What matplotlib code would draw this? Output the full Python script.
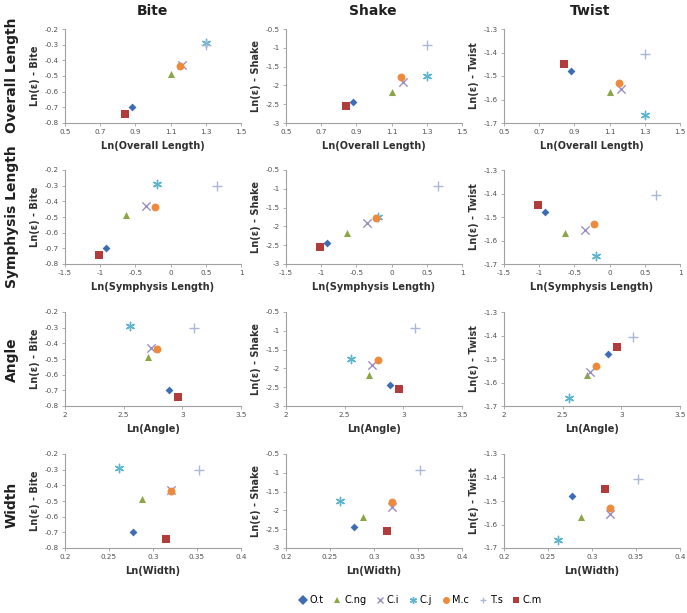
import matplotlib
matplotlib.use("Agg")
import matplotlib.pyplot as plt
from matplotlib.lines import Line2D

species = ["O.t", "C.ng", "C.i", "C.j", "M.c", "T.s", "C.m"]

# y values (Ln(strain))
bite = [-0.70, -0.49, -0.43, -0.29, -0.435, -0.30, -0.745]
shake = [-2.44, -2.17, -1.90, -1.75, -1.78, -0.92, -2.55]
twist = [-1.477, -1.570, -1.555, -1.668, -1.530, -1.405, -1.450]

# x values (Ln(morphology))
overall_length = [0.88, 1.10, 1.165, 1.30, 1.155, 1.30, 0.84]
symphysis_length = [-0.92, -0.63, -0.35, -0.20, -0.22, 0.66, -1.02]
angle = [2.89, 2.71, 2.735, 2.55, 2.78, 3.10, 2.96]
width = [0.277, 0.287, 0.320, 0.261, 0.321, 0.352, 0.315]

col_titles = ["Bite", "Shake", "Twist"]
row_titles = ["Overall Length", "Symphysis Length", "Angle", "Width"]
x_labels = ["Ln(Overall Length)", "Ln(Symphysis Length)", "Ln(Angle)", "Ln(Width)"]
y_labels = ["Ln(\u03b5) - Bite", "Ln(\u03b5) - Shake", "Ln(\u03b5) - Twist"]

x_data = [overall_length, symphysis_length, angle, width]
y_data = [bite, shake, twist]

x_ticks = [
    [0.5, 0.7, 0.9, 1.1, 1.3, 1.5],
    [-1.5, -1, -0.5, 0, 0.5, 1],
    [2, 2.5, 3, 3.5],
    [0.2, 0.25, 0.3, 0.35, 0.4],
]
x_ticklabels = [
    ["0.5", "0.7", "0.9", "1.1", "1.3", "1.5"],
    ["-1.5", "-1", "-0.5", "0", "0.5", "1"],
    ["2", "2.5", "3", "3.5"],
    ["0.2", "0.25", "0.3", "0.35", "0.4"],
]
y_ticks = [
    [-0.8, -0.7, -0.6, -0.5, -0.4, -0.3, -0.2],
    [-3, -2.5, -2, -1.5, -1, -0.5],
    [-1.7, -1.6, -1.5, -1.4, -1.3],
]
y_ticklabels = [
    ["-0.8", "-0.7", "-0.6", "-0.5", "-0.4", "-0.3", "-0.2"],
    ["-3", "-2.5", "-2", "-1.5", "-1", "-0.5"],
    ["-1.7", "-1.6", "-1.5", "-1.4", "-1.3"],
]

markers = ["D", "^", "x", (6, 2, 0), "o", "+", "s"]
colors = ["#3F6DB5", "#8BA648", "#9B8FC2", "#5BB4D0", "#EE8A3C", "#A9B8D6", "#B23B3B"]
sizes = [16, 26, 36, 36, 32, 46, 30]
line_markers = ("x", "+", (6, 2, 0))

fig = plt.figure(figsize=(6.87, 6.13), dpi=100)
W, H = 687.0, 613.0
col_left = [65, 286, 504]
col_w = 176
row_bottom = [123, 264, 406, 548]
row_h = 94

for r in range(4):
    for c in range(3):
        ax = fig.add_axes([col_left[c] / W, 1 - row_bottom[r] / H, col_w / W, row_h / H])
        for i, sp in enumerate(species):
            ax.scatter(x_data[r][i], y_data[c][i], marker=markers[i], color=colors[i],
                       s=sizes[i], linewidths=1.0 if markers[i] in line_markers else 0,
                       zorder=3)
        ax.set_xlim(x_ticks[r][0], x_ticks[r][-1])
        ax.set_ylim(y_ticks[c][0], y_ticks[c][-1])
        ax.set_xticks(x_ticks[r])
        ax.set_xticklabels(x_ticklabels[r])
        ax.set_yticks(y_ticks[c])
        ax.set_yticklabels(y_ticklabels[c])
        ax.tick_params(labelsize=5.2, colors="#505050", length=2.5, width=0.6, pad=2)
        ax.tick_params(axis="both", color="#A0A0A0")
        for s in ("top", "right"):
            ax.spines[s].set_visible(False)
        for s in ("left", "bottom"):
            ax.spines[s].set_color("#A0A0A0")
            ax.spines[s].set_linewidth(0.8)
        ax.set_facecolor("white")
        ax.set_xlabel(x_labels[r], fontsize=7, fontweight="bold", color="#303030", labelpad=4)
        ax.set_ylabel(y_labels[c], fontsize=7, fontweight="bold", color="#303030", labelpad=3)

col_centers = [152, 373, 590]
for c in range(3):
    fig.text(col_centers[c] / W, 1 - 11 / H, col_titles[c], ha="center", va="center",
             fontsize=10, fontweight="bold", color="#202020")

row_centers = [75, 217, 360, 505]
for r in range(4):
    fig.text(12 / W, 1 - row_centers[r] / H, row_titles[r], ha="center", va="center",
             rotation=90, fontsize=10, fontweight="bold", color="#202020")

handles = []
for i, sp in enumerate(species):
    handles.append(Line2D([], [], linestyle="none", marker=markers[i], color=colors[i],
                          markersize=5, markeredgewidth=1.0 if markers[i] in line_markers else 0,
                          label=sp))
fig.legend(handles=handles, loc="center", bbox_to_anchor=(420 / W, 1 - 600 / H), ncol=7,
           frameon=False, fontsize=7, handletextpad=0.2, columnspacing=0.9, handlelength=1.0)

fig.savefig("out.png", dpi=100, facecolor="white")
